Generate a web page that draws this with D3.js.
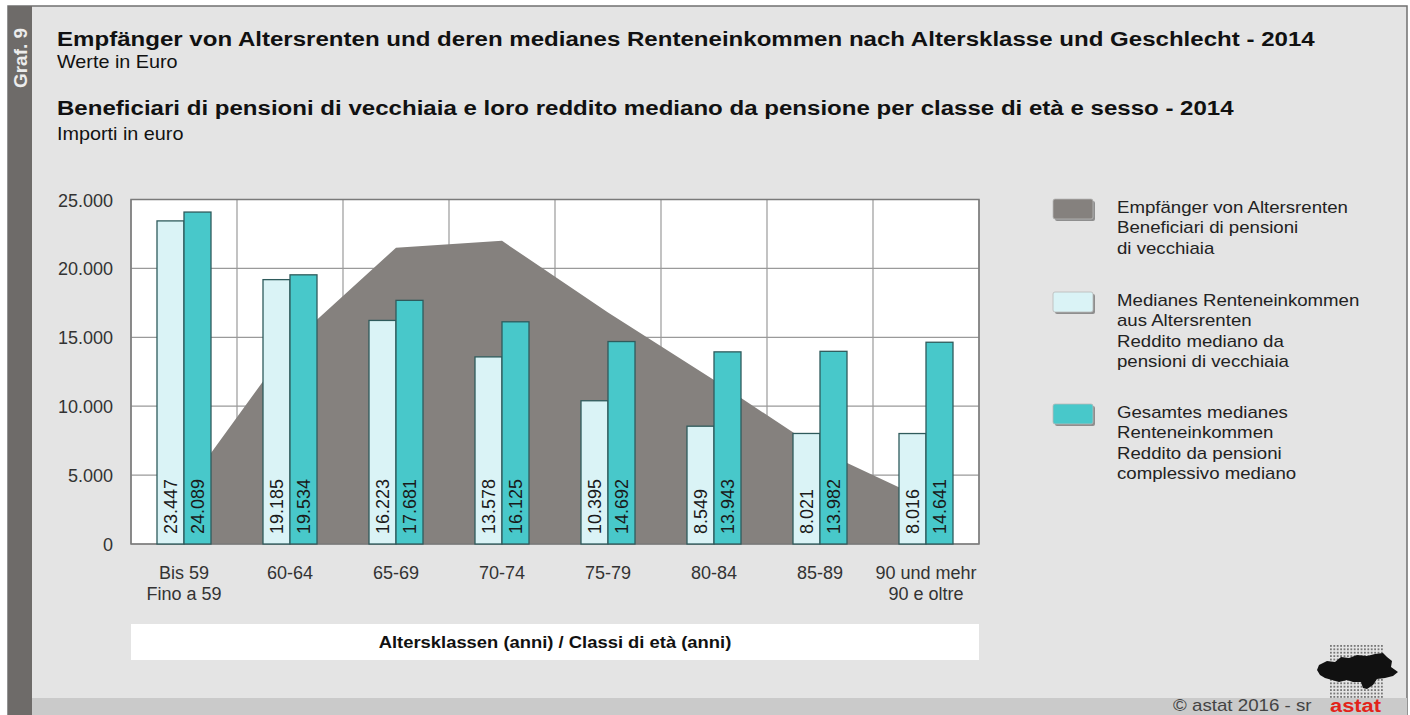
<!DOCTYPE html>
<html>
<head>
<meta charset="utf-8">
<script src="https://cdn.jsdelivr.net/npm/d3@7"></script>
<style>
  body { margin: 0; background: #ffffff; }
  svg text { font-family: Arial, "Liberation Sans", sans-serif; }
</style>
</head>
<body>
<div id="chart"></div>
<script>
// age classes (two-line labels)
var categories = [["Bis 59", "Fino a 59"], ["60-64"], ["65-69"], ["70-74"], ["75-79"], ["80-84"], ["85-89"], ["90 und mehr", "90 e oltre"]];
// recipients (area, drawn on the same axis)
var recipients = [3900, 14500, 21500, 22000, 16800, 11900, 6800, 3200];
// median old-age pension income
var medianOldAge = [23447, 19185, 16223, 13578, 10395, 8549, 8021, 8016];
// total median pension income
var medianTotal = [24089, 19534, 17681, 16125, 14692, 13943, 13982, 14641];
var yTicks = [0, 5000, 10000, 15000, 20000, 25000];

var legendItems = [
	{ color: "#85817e", lines: ["Empfänger von Altersrenten", "Beneficiari di pensioni", "di vecchiaia"] },
	{ color: "#daf3f6", lines: ["Medianes Renteneinkommen", "aus Altersrenten", "Reddito mediano da", "pensioni di vecchiaia"] },
	{ color: "#48c8ca", lines: ["Gesamtes medianes", "Renteneinkommen", "Reddito da pensioni", "complessivo mediano"] }
];

var W = 1410, H = 715;
var plot = { left: 131, right: 979, top: 199.5, bottom: 544 };
var stretch = 1.15; // the original's texts are drawn a bit wide

var it = d3.formatLocale({ decimal: ",", thousands: ".", grouping: [3], currency: ["", " €"] });
var fmt = it.format(",d");

var svg = d3.select("#chart").append("svg").attr("width", W).attr("height", H);

// frame
svg.append("rect").attr("x", 8).attr("y", 6).attr("width", 1399).attr("height", 712)
	.style("fill", "#e4e4e4").style("stroke", "#707070").style("stroke-width", 1.5);
svg.append("rect").attr("x", 8).attr("y", 6).attr("width", 24).attr("height", 712).style("fill", "#6e6b69");
svg.append("rect").attr("x", 32).attr("y", 698).attr("width", 1375).attr("height", 20).style("fill", "#cacaca");
svg.append("text").attr("transform", "translate(27,58) rotate(-90)").attr("text-anchor", "middle")
	.style("font-size", "19px").style("font-weight", "bold").style("fill", "#ececec").text("Graf. 9");

// titles
var titles = [
	{ t: "Empfänger von Altersrenten und deren medianes Renteneinkommen nach Altersklasse und Geschlecht - 2014", y: 46, b: true },
	{ t: "Werte in Euro", y: 68, b: false },
	{ t: "Beneficiari di pensioni di vecchiaia e loro reddito mediano da pensione per classe di età e sesso - 2014", y: 115, b: true },
	{ t: "Importi in euro", y: 140, b: false }
];
svg.selectAll("text.title").data(titles).enter().append("text").attr("class", "title")
	.attr("transform", function(d) { return "translate(57," + d.y + ") scale(" + (d.b ? 1.146 : 1.1) + ",1)"; })
	.style("font-size", function(d) { return d.b ? "21px" : "18px"; })
	.style("font-weight", function(d) { return d.b ? "bold" : "normal"; })
	.style("fill", "#111").text(function(d) { return d.t; });

// scales
var x = d3.scaleBand().domain(d3.range(categories.length)).range([plot.left, plot.right]);
var xInner = d3.scaleBand().domain([0, 1]).range([0, x.bandwidth()]).paddingOuter(0.963);
var y = d3.scaleLinear().domain([0, 25000]).range([plot.bottom, plot.top]);

// plot background + grid
svg.append("rect").attr("x", plot.left).attr("y", plot.top).attr("width", plot.right - plot.left)
	.attr("height", plot.bottom - plot.top).style("fill", "#ffffff");
svg.selectAll("line.hgrid").data(yTicks).enter().append("line").attr("class", "hgrid")
	.attr("x1", plot.left).attr("x2", plot.right).attr("y1", function(d) { return y(d); }).attr("y2", function(d) { return y(d); })
	.style("stroke", "#9a9a9a").style("stroke-width", 1.2);
svg.selectAll("line.vgrid").data(d3.range(categories.length + 1)).enter().append("line").attr("class", "vgrid")
	.attr("x1", function(d) { return plot.left + d * x.step(); }).attr("x2", function(d) { return plot.left + d * x.step(); })
	.attr("y1", plot.top).attr("y2", plot.bottom)
	.style("stroke", "#9a9a9a").style("stroke-width", 1.2);

// recipients area
var area = d3.area()
	.x(function(d, i) { return x(i) + x.bandwidth() / 2; })
	.y0(y(0)).y1(function(d) { return y(d); });
svg.append("path").datum(recipients).attr("d", area).style("fill", "#85817e");

// plot border
svg.append("rect").attr("x", plot.left).attr("y", plot.top).attr("width", plot.right - plot.left)
	.attr("height", plot.bottom - plot.top).style("fill", "none").style("stroke", "#7a7a7a").style("stroke-width", 1.5);

// bars
var series = [
	{ values: medianOldAge, color: "#daf3f6" },
	{ values: medianTotal, color: "#48c8ca" }
];
series.forEach(function(s, si) {
	var g = svg.append("g");
	g.selectAll("rect").data(s.values).enter().append("rect")
		.attr("x", function(d, i) { return x(i) + xInner(si); })
		.attr("width", xInner.bandwidth())
		.attr("y", function(d) { return y(d); })
		.attr("height", function(d) { return y(0) - y(d); })
		.style("fill", s.color).style("stroke", "#2f5b5c").style("stroke-width", 1.3);
	g.selectAll("text").data(s.values).enter().append("text")
		.attr("transform", function(d, i) {
			var cx = x(i) + xInner(si) + xInner.bandwidth() / 2 + 6.5;
			return "translate(" + cx + "," + (y(0) - 10) + ") rotate(-90)";
		})
		.style("font-size", "18px").style("fill", "#1a1a1a").text(function(d) { return fmt(d); });
});

// y axis labels
svg.selectAll("text.ytick").data(yTicks).enter().append("text").attr("class", "ytick")
	.attr("x", 113).attr("y", function(d) { return y(d) + 7; }).attr("text-anchor", "end")
	.style("font-size", "18px").style("fill", "#333").text(function(d) { return fmt(d); });

// x axis labels
var xl = svg.selectAll("text.xtick").data(categories).enter().append("text").attr("class", "xtick")
	.attr("text-anchor", "middle").style("font-size", "18px").style("fill", "#333");
xl.selectAll("tspan").data(function(d, i) { return d.map(function(t) { return { t: t, i: i }; }); }).enter().append("tspan")
	.attr("x", function(d) { return x(d.i) + x.bandwidth() / 2; })
	.attr("y", function(d, j) { return 579 + j * 21; })
	.text(function(d) { return d.t; });

// axis title box
svg.append("rect").attr("x", plot.left).attr("y", 624).attr("width", plot.right - plot.left).attr("height", 36).style("fill", "#ffffff");
svg.append("text").attr("transform", "translate(" + ((plot.left + plot.right) / 2) + ",648) scale(" + stretch + ",1)")
	.attr("text-anchor", "middle")
	.style("font-size", "16px").style("font-weight", "bold").style("fill", "#111")
	.text("Altersklassen (anni) / Classi di età (anni)");

// legend
var legendTop = [199, 292, 404];
var lg = svg.selectAll("g.legend").data(legendItems).enter().append("g").attr("class", "legend")
	.attr("transform", function(d, i) { return "translate(1053," + legendTop[i] + ")"; });
lg.append("rect").attr("x", 2).attr("y", 2).attr("width", 40).attr("height", 20).attr("rx", 2).style("fill", "#8e8e8e");
lg.append("rect").attr("width", 40).attr("height", 20).attr("rx", 2).style("fill", function(d) { return d.color; })
	.style("stroke", "#b8b8b8").style("stroke-width", 0.8);
lg.append("g").attr("transform", "translate(64,0) scale(1.165,1)")
	.append("text").style("font-size", "16px").style("fill", "#222")
	.selectAll("tspan").data(function(d) { return d.lines; }).enter().append("tspan")
	.attr("x", 0).attr("y", function(d, j) { return 14 + j * 20.5; }).text(function(d) { return d; });

// footer
svg.append("text").attr("transform", "translate(1173,711) scale(1.17,1)")
	.style("font-size", "16px").style("fill", "#444").text("\u00a9 astat 2016 - sr");
svg.append("text").attr("transform", "translate(1330,712) scale(1.15,1)")
	.style("font-size", "19px").style("font-weight", "bold").style("fill", "#e2231a").text("astat");

// logo: dot grid with dark region silhouette
var logo = svg.append("g").attr("transform", "translate(1317,645)");
var dots = [];
d3.range(16).forEach(function(c) { d3.range(16).forEach(function(r) { dots.push([13 + c * 3.4, r * 3.4]); }); });
logo.selectAll("rect").data(dots).enter().append("rect")
	.attr("x", function(d) { return d[0]; }).attr("y", function(d) { return d[1]; })
	.attr("width", 1.8).attr("height", 1.8).style("fill", "#777");
logo.append("path")
	.attr("d", "M2,20 L10,16 L18,17 L24,12 L32,13 L40,10 L50,11 L58,9 L66,8 L70,12 L75,16 L74,22 L81,27 L76,31 L68,33 L60,34 L56,40 L50,44 L46,43 L44,37 L36,37 L30,35 L22,37 L15,35 L8,33 L3,30 L0,25 Z")
	.style("fill", "#111");
</script>
</body>
</html>
